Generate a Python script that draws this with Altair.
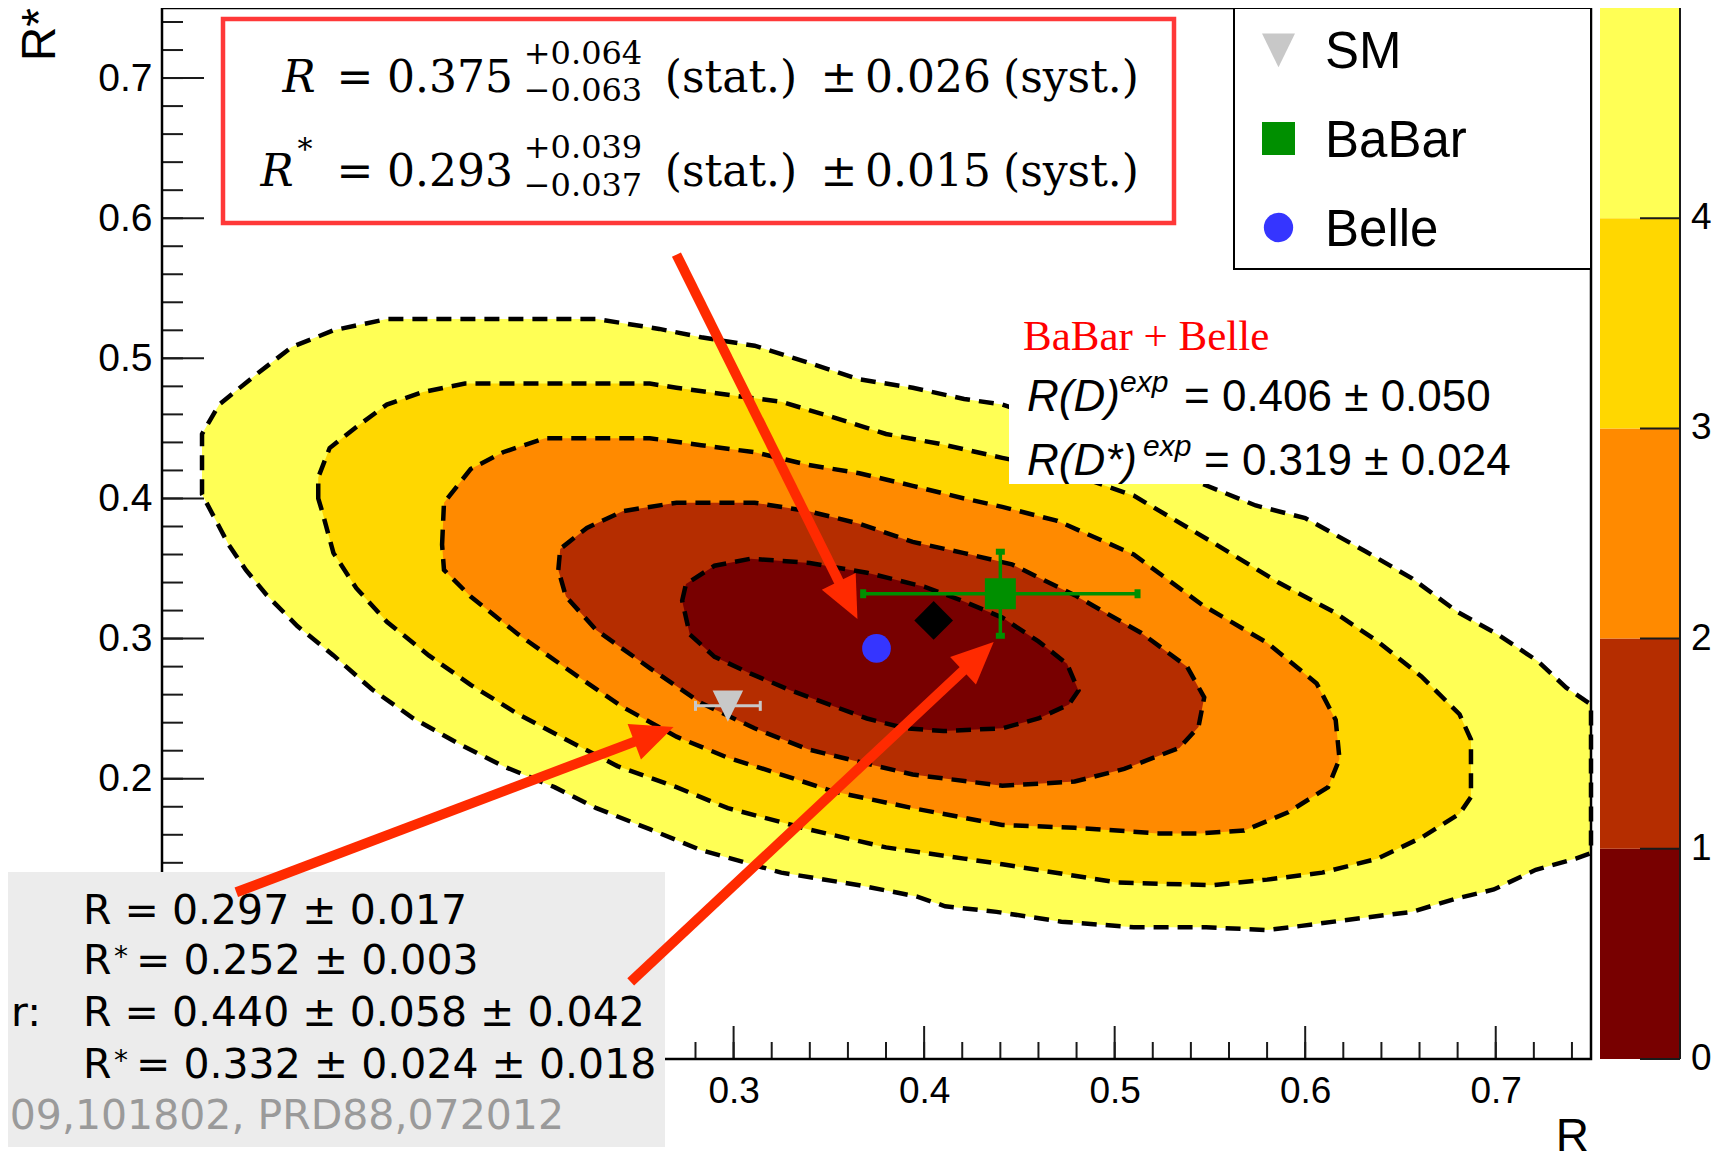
import math
import altair as alt
import pandas as pd

# ---------------- data ----------------
# filled likelihood contours (R, R*), from the innermost (0-1) to the outermost (4-5)
c1_R = [0.273, 0.275, 0.290, 0.309, 0.340, 0.370, 0.400, 0.420, 0.441, 0.460, 0.475, 0.481,
        0.476, 0.460, 0.441, 0.410, 0.390, 0.370, 0.350, 0.330, 0.309, 0.290, 0.277]
c1_Rs = [0.327, 0.339, 0.352, 0.357, 0.354, 0.347, 0.337, 0.327, 0.315, 0.298, 0.282, 0.263,
         0.253, 0.243, 0.236, 0.234, 0.236, 0.243, 0.253, 0.263, 0.275, 0.287, 0.303]

c2_R = [0.208, 0.209, 0.223, 0.242, 0.270, 0.311, 0.339, 0.366, 0.394, 0.421, 0.446, 0.479,
        0.514, 0.538, 0.547, 0.544, 0.534, 0.505, 0.479, 0.441, 0.394, 0.366, 0.339, 0.311,
        0.283, 0.256, 0.228, 0.212]
c2_Rs = [0.349, 0.364, 0.379, 0.391, 0.397, 0.397, 0.391, 0.382, 0.369, 0.361, 0.353, 0.331,
         0.304, 0.280, 0.258, 0.237, 0.222, 0.207, 0.198, 0.195, 0.203, 0.212, 0.221, 0.236,
         0.254, 0.279, 0.306, 0.330]

c3_R = [0.147, 0.148, 0.162, 0.179, 0.201, 0.256, 0.283, 0.311, 0.339, 0.366, 0.394, 0.421,
        0.441, 0.470, 0.510, 0.546, 0.580, 0.606, 0.616, 0.618, 0.612, 0.591, 0.568, 0.545,
        0.523, 0.479, 0.441, 0.394, 0.352, 0.325, 0.297, 0.270, 0.242, 0.215, 0.187, 0.162, 0.148]
c3_Rs = [0.367, 0.397, 0.421, 0.433, 0.443, 0.443, 0.438, 0.433, 0.424, 0.418, 0.409, 0.400,
         0.394, 0.384, 0.360, 0.324, 0.297, 0.268, 0.242, 0.214, 0.194, 0.176, 0.163, 0.161,
         0.161, 0.165, 0.167, 0.179, 0.191, 0.203, 0.215, 0.230, 0.251, 0.276, 0.303, 0.330, 0.349]

c4_R = [0.082, 0.082, 0.088, 0.102, 0.118, 0.137, 0.159, 0.256, 0.270, 0.297, 0.325, 0.352,
        0.380, 0.408, 0.441, 0.470, 0.510, 0.551, 0.586, 0.615, 0.638, 0.661, 0.681, 0.687,
        0.687, 0.681, 0.661, 0.638, 0.609, 0.580, 0.551, 0.501, 0.441, 0.421, 0.380, 0.339,
        0.297, 0.270, 0.239, 0.212, 0.187, 0.162, 0.140, 0.118, 0.102, 0.090, 0.084]
c4_Rs = [0.400, 0.415, 0.436, 0.451, 0.467, 0.476, 0.482, 0.482, 0.479, 0.474, 0.469, 0.458,
         0.446, 0.439, 0.429, 0.421, 0.402, 0.369, 0.340, 0.319, 0.298, 0.273, 0.246, 0.228,
         0.187, 0.175, 0.158, 0.143, 0.133, 0.128, 0.124, 0.126, 0.139, 0.143, 0.151, 0.164,
         0.179, 0.194, 0.209, 0.228, 0.246, 0.267, 0.288, 0.312, 0.336, 0.361, 0.391]

c5_R = [0.021, 0.021, 0.030, 0.049, 0.068, 0.090, 0.118, 0.228, 0.261, 0.283, 0.311, 0.339,
        0.366, 0.394, 0.421, 0.441, 0.470, 0.510, 0.545, 0.574, 0.600, 0.632, 0.656, 0.680,
        0.701, 0.722, 0.737, 0.750, 0.750, 0.742, 0.721, 0.699, 0.678, 0.656, 0.632, 0.598,
        0.580, 0.548, 0.510, 0.472, 0.438, 0.411, 0.396, 0.366, 0.325, 0.283, 0.256, 0.228,
        0.206, 0.179, 0.157, 0.132, 0.110, 0.090, 0.071, 0.055, 0.044, 0.035, 0.028]
c5_Rs = [0.403, 0.446, 0.467, 0.488, 0.508, 0.520, 0.528, 0.528, 0.521, 0.515, 0.509, 0.497,
         0.485, 0.479, 0.471, 0.467, 0.454, 0.431, 0.411, 0.395, 0.386, 0.362, 0.343, 0.319,
         0.303, 0.284, 0.265, 0.253, 0.147, 0.143, 0.135, 0.121, 0.114, 0.105, 0.101, 0.095,
         0.092, 0.094, 0.094, 0.098, 0.105, 0.109, 0.116, 0.124, 0.133, 0.149, 0.164, 0.179,
         0.194, 0.209, 0.224, 0.243, 0.264, 0.288, 0.309, 0.331, 0.349, 0.367, 0.385]

# measurements: SM, BaBar, Belle, average
pt_R = [0.297, 0.440, 0.375, 0.405]
pt_Rs = [0.252, 0.332, 0.293, 0.313]
pt_eR = [0.017, 0.072, 0.0, 0.0]
pt_eRs = [0.003, 0.030, 0.0, 0.0]

# red arrows: tail -> tip, in (R, R*)
arr_R0 = [0.270, 0.039, 0.246]
arr_Rs0 = [0.574, 0.119, 0.055]
arr_R1 = [0.365, 0.2685, 0.4365]
arr_Rs1 = [0.314, 0.237, 0.2975]

# colour bar levels, tick values and visible tick labels
cb_levels = [0, 1, 2, 3, 4, 5]
tick_major = [0.0, 0.1, 0.2, 0.3, 0.4, 0.5, 0.6, 0.7]
tick_minor = [round(0.02 * i, 2) for i in range(38)]
x_labels = [0.3, 0.4, 0.5, 0.6, 0.7]
y_labels = [0.2, 0.3, 0.4, 0.5, 0.6, 0.7]

# ---------------- styling ----------------
palette = ["#780000", "#b52d00", "#ff8a00", "#ffd700", "#ffff55"]
RED = "#ff2a00"
GREEN = "#008f00"
BLUE = "#3535ff"
GRAY = "#c8c8c8"
SANS = "Liberation Sans"
SERIF = "Liberation Serif"
DSERIF = "DejaVu Serif"
DSANS = "DejaVu Sans"

W, H = 1429, 1051
PAD = {"left": 154, "top": 0, "right": 124, "bottom": 103}

xs = alt.Scale(domain=[0.0, 0.75], nice=False, zero=False)
ys = alt.Scale(domain=[0.0, 0.75], nice=False, zero=False)
xaxis = alt.Axis(values=x_labels, format=".1f", title=None, ticks=False, tickSize=0,
                 domain=False, grid=False, labelFont=SANS, labelFontSize=37,
                 labelColor="#000000", labelPadding=14, labelFlush=False, labelOverlap=False)
yaxis = alt.Axis(values=y_labels, format=".1f", title=None, ticks=False, tickSize=0,
                 domain=False, grid=False, labelFont=SANS, labelFontSize=39,
                 labelColor="#000000", labelPadding=10, labelOverlap=False)


def X(f):
    return alt.X(f, type="quantitative", scale=xs, axis=xaxis)


def Y(f):
    return alt.Y(f, type="quantitative", scale=ys, axis=yaxis)


dummy = pd.DataFrame({"k": [0]})


def T(s, x, y, size, font=SANS, align="left", baseline="alphabetic", color="#000000",
      style="normal", angle=0):
    mk = dict(font=font, fontSize=size, align=align, baseline=baseline, color=color,
              fontStyle=style)
    if angle:
        mk["angle"] = angle
    return alt.Chart(dummy).mark_text(**mk).encode(
        x=alt.value(x), y=alt.value(y), text=alt.value(s))


def BOX(x0, x1, y0, y1, fill, stroke=None, sw=0, fop=1):
    kw = dict(fill=fill, fillOpacity=fop)
    if stroke:
        kw.update(stroke=stroke, strokeWidth=sw)
    return alt.Chart(dummy).mark_rect(**kw).encode(
        x=alt.value(x0), x2=alt.value(x1), y=alt.value(y0), y2=alt.value(y1))


def PM(x, y, shape, size, color):
    return alt.Chart(dummy).mark_point(shape=shape, size=size, filled=True, color=color,
                                       opacity=1, strokeWidth=0).encode(
        x=alt.value(x), y=alt.value(y))


TRI_DOWN = "M-1,-1L1,-1L0,1.05Z"

layers = []

# ---- contours (outermost first) ----
contours = [(c5_R, c5_Rs), (c4_R, c4_Rs), (c3_R, c3_Rs), (c2_R, c2_Rs), (c1_R, c1_Rs)]
for k, (rv, sv) in enumerate(contours):
    df = pd.DataFrame({"R": rv, "Rs": sv, "i": list(range(len(rv)))})
    layers.append(
        alt.Chart(df).mark_line(interpolate="linear-closed", fill=palette[4 - k], fillOpacity=1,
                                stroke="black", strokeWidth=4.5, strokeDash=[15, 9]).encode(
            x=X("R"), y=Y("Rs"), order=alt.Order("i:Q")))

# ---- inward axis ticks ----
for vals, ln in [(tick_minor, 17), (tick_major, 33)]:
    layers.append(alt.Chart(pd.DataFrame({"t": vals})).mark_rule(color="#1a1a1a", strokeWidth=2)
                  .encode(x=X("t"), y=alt.value(H), y2=alt.value(H - ln)))
for vals, ln in [(tick_minor, 21), (tick_major, 42)]:
    layers.append(alt.Chart(pd.DataFrame({"t": vals})).mark_rule(color="#1a1a1a", strokeWidth=2)
                  .encode(y=Y("t"), x=alt.value(0), x2=alt.value(ln)))

# ---- SM point with error bar ----
df_sm = pd.DataFrame({"lo": [pt_R[0] - pt_eR[0]], "hi": [pt_R[0] + pt_eR[0]], "Rs": [pt_Rs[0]]})
layers.append(alt.Chart(df_sm).mark_rule(color=GRAY, strokeWidth=3)
              .encode(x=X("lo"), x2="hi:Q", y=Y("Rs")))
df_smc = pd.DataFrame({"R": [pt_R[0] - pt_eR[0], pt_R[0] + pt_eR[0]], "Rs": [pt_Rs[0]] * 2})
layers.append(alt.Chart(df_smc).mark_tick(orient="vertical", size=10, thickness=3, color=GRAY,
                                          opacity=1).encode(x=X("R"), y=Y("Rs")))
layers.append(alt.Chart(pd.DataFrame({"R": [pt_R[0]], "Rs": [pt_Rs[0]]}))
              .mark_point(shape=TRI_DOWN, size=930, filled=True, color=GRAY, opacity=1,
                          strokeWidth=0).encode(x=X("R"), y=Y("Rs")))

# ---- BaBar point with error bars ----
bR, bS, beR, beS = pt_R[1], pt_Rs[1], pt_eR[1], pt_eRs[1]
layers.append(alt.Chart(pd.DataFrame({"lo": [bR - beR], "hi": [bR + beR], "Rs": [bS]}))
              .mark_rule(color=GREEN, strokeWidth=3.5).encode(x=X("lo"), x2="hi:Q", y=Y("Rs")))
layers.append(alt.Chart(pd.DataFrame({"R": [bR], "lo": [bS - beS], "hi": [bS + beS]}))
              .mark_rule(color=GREEN, strokeWidth=3.5).encode(x=X("R"), y=Y("lo"), y2="hi:Q"))
layers.append(alt.Chart(pd.DataFrame({"R": [bR - beR, bR + beR], "Rs": [bS, bS]}))
              .mark_tick(orient="vertical", size=9, thickness=6, color=GREEN, opacity=1)
              .encode(x=X("R"), y=Y("Rs")))
layers.append(alt.Chart(pd.DataFrame({"R": [bR, bR], "Rs": [bS - beS, bS + beS]}))
              .mark_tick(orient="horizontal", size=9, thickness=6, color=GREEN, opacity=1)
              .encode(x=X("R"), y=Y("Rs")))


def point(i, shape, size, color):
    return alt.Chart(pd.DataFrame({"R": [pt_R[i]], "Rs": [pt_Rs[i]]})).mark_point(
        shape=shape, size=size, filled=True, color=color, opacity=1, strokeWidth=0).encode(
        x=X("R"), y=Y("Rs"))


layers.append(point(1, "square", 960, GREEN))
layers.append(point(2, "circle", 824, BLUE))
layers.append(point(3, "diamond", 1500, "#000000"))

# ---- plot frame ----
layers.append(BOX(0, W, 0, H, "#ffffff", stroke="#000000", sw=2.5, fop=0))

# ---- red result box ----
layers.append(BOX(61, 1012, 11, 215, "#ffffff", stroke="#ff3838", sw=4.5))
MS, SS = 44, 32
for (base, sup_b, sub_b, rx, num, sup, sub, num2) in [
        (84, 56, 93, 137, "0.375", "+0.064", "\u22120.063", "0.026"),
        (178, 150, 188, 115, "0.293", "+0.039", "\u22120.037", "0.015")]:
    layers.append(T("R", rx, base, MS, font=DSERIF, align="center", style="italic"))
    layers.append(T("=", 193, base, MS, font=DSERIF, align="center"))
    layers.append(T(num, 288, base, MS, font=DSERIF, align="center"))
    layers.append(T(sup, 421, sup_b, SS, font=DSERIF, align="center"))
    layers.append(T(sub, 421, sub_b, SS, font=DSERIF, align="center"))
    layers.append(T("(stat.)", 569, base, MS, font=DSERIF, align="center"))
    layers.append(T("\u00b1", 677, base, MS, font=DSERIF, align="center"))
    layers.append(T(num2, 766, base, MS, font=DSERIF, align="center"))
    layers.append(T("(syst.)", 909, base, MS, font=DSERIF, align="center"))
layers.append(T("*", 143, 151, 30, font=DSERIF, align="center"))

# ---- legend ----
layers.append(BOX(1072, W, 0, 261, "#ffffff", stroke="#000000", sw=2))
layers.append(PM(1116.5, 42, TRI_DOWN, 1089, GRAY))
layers.append(PM(1116.5, 130.5, "square", 1089, GREEN))
layers.append(PM(1116.5, 219.5, "circle", 860, BLUE))
layers.append(T("SM", 1163, 60, 51))
layers.append(T("BaBar", 1163, 149, 51))
layers.append(T("Belle", 1163, 238, 51))

# ---- combined inputs ----
layers.append(BOX(847, 1355, 366, 476, "#ffffff"))
layers.append(T("BaBar + Belle", 861, 342, 43, font=SERIF, color="#ff0000"))
layers.append(T("R(D)", 865, 403, 44, style="italic"))
layers.append(T("exp", 958, 384, 30, style="italic"))
layers.append(T("= 0.406 \u00b1 0.050", 1022, 403, 44))
layers.append(T("R(D*)", 865, 467, 44, style="italic"))
layers.append(T("exp", 981, 448, 30, style="italic"))
layers.append(T("= 0.319 \u00b1 0.024", 1042, 467, 44))

# ---- grey inset box ----
layers.append(BOX(-170, 503, 864, 1139, "#ececec"))
GL = -79
layers.append(T("R = 0.297 \u00b1 0.017", GL, 916, 41, font=DSANS))
layers.append(T("R", GL, 966, 41, font=DSANS))
layers.append(T("*", GL + 31, 958, 28, font=DSANS))
layers.append(T("= 0.252 \u00b1 0.003", GL + 53, 966, 41, font=DSANS))
layers.append(T("r:", -121, 1018, 41, font=DSANS, align="right"))
layers.append(T("R = 0.440 \u00b1 0.058 \u00b1 0.042", GL, 1018, 41, font=DSANS))
layers.append(T("R", GL, 1070, 41, font=DSANS))
layers.append(T("*", GL + 31, 1062, 28, font=DSANS))
layers.append(T("= 0.332 \u00b1 0.024 \u00b1 0.018", GL + 53, 1070, 41, font=DSANS))
layers.append(T("09,101802, PRD88,072012", 402, 1121, 41, font=DSANS, align="right",
                color="#9a9a9a"))

# ---- axis titles ----
layers.append(T("R", 1427, 1143, 46, align="right"))
layers.append(T("R*", -107, 0, 48, align="right", angle=270))

# ---- red arrows ----
pxR, pxS = W / 0.75, H / 0.75
rows = []
for r0, s0, r1, s1 in zip(arr_R0, arr_Rs0, arr_R1, arr_Rs1):
    dx = (r1 - r0) * pxR
    dy = -(s1 - s0) * pxS
    L = math.hypot(dx, dy)
    f = (L - 26.0) / L
    rows.append({"R0": r0, "S0": s0, "Re": r0 + (r1 - r0) * f, "Se": s0 + (s1 - s0) * f,
                 "Rt": r1, "St": s1, "ang": math.degrees(math.atan2(dx, -dy)) % 360})
df_arr = pd.DataFrame(rows)
layers.append(alt.Chart(df_arr).mark_rule(color=RED, strokeWidth=10, strokeCap="butt")
              .encode(x=X("R0"), y=Y("S0"), x2="Re:Q", y2="Se:Q"))
layers.append(alt.Chart(df_arr).mark_point(shape="M0,0L-0.9,2L0.9,2Z", size=1764, filled=True,
                                           color=RED, opacity=1, strokeWidth=0)
              .encode(x=X("Rt"), y=Y("St"), angle=alt.Angle("ang:Q", scale=None)))

main = alt.layer(*layers)

# ---- colour bar (own y scale 0..5) ----
cys = alt.Scale(domain=[0, 5], nice=False, zero=False)
df_cb = pd.DataFrame({"lo": cb_levels[:-1], "hi": cb_levels[1:], "col": palette})
df_cbt = pd.DataFrame({"v": cb_levels[:-1], "lab": [str(v) for v in cb_levels[:-1]]})
cb_rect = alt.Chart(df_cb).mark_rect().encode(
    x=alt.value(1438), x2=alt.value(1518),
    y=alt.Y("lo:Q", scale=cys, axis=None), y2="hi:Q",
    fill=alt.Fill("col:N", scale=None))
cb_ticks = alt.Chart(df_cbt).mark_rule(color="#1a1a1a", strokeWidth=2).encode(
    y=alt.Y("v:Q", scale=cys, axis=None), x=alt.value(1478), x2=alt.value(1518))
cb_line = alt.Chart(dummy).mark_rule(color="#1a1a1a", strokeWidth=2).encode(
    x=alt.value(1518), y=alt.value(0), y2=alt.value(H))
cb_labels = alt.Chart(df_cbt).mark_text(align="left", baseline="middle", font=SANS,
                                        fontSize=37, color="#000000").encode(
    y=alt.Y("v:Q", scale=cys, axis=None), x=alt.value(1529), text="lab:N")
cbar = alt.layer(cb_rect, cb_ticks, cb_line, cb_labels)

chart = alt.layer(main, cbar).resolve_scale(y="independent").properties(
    width=W, height=H, autosize=alt.AutoSizeParams(type="none"), padding=PAD
).configure_view(strokeWidth=0)

chart.save("out.html", embed_options={"renderer": "svg", "actions": False})
